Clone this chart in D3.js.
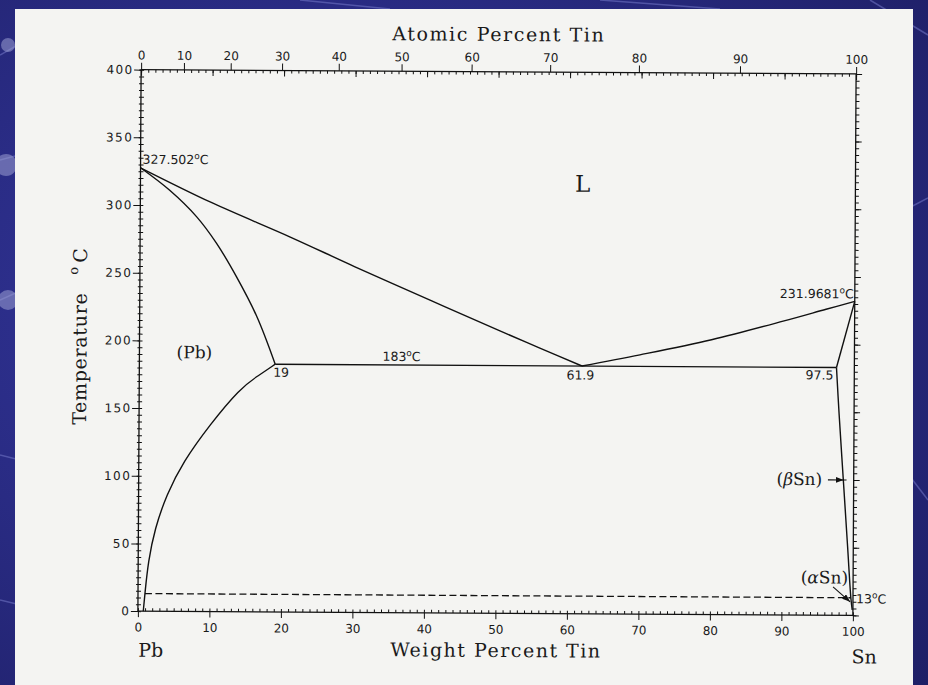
<!DOCTYPE html>
<html>
<head>
<meta charset="utf-8">
<script src="https://cdn.jsdelivr.net/npm/d3@7"></script>
<style>
body { margin: 0; background: #2a2c85; }
svg { display: block; }
.tick text { font-family: "DejaVu Sans"; font-size: 12px; fill: #1a1a1a; }
.left .tick text { letter-spacing: 1.4px; }
.serif { font-family: "DejaVu Serif", serif; fill: #1a1a1a; }
.sans { font-family: "DejaVu Sans"; font-size: 12.5px; fill: #1a1a1a; }
</style>
</head>
<body>
<div id="chart"></div>
<script>
//Les graduations des axes
const wtTicks = [0, 10, 20, 30, 40, 50, 60, 70, 80, 90, 100];
const atTicks = [0, 10, 20, 30, 40, 50, 60, 70, 80, 90, 100];
const tempTicks = [0, 50, 100, 150, 200, 250, 300, 350, 400];

//Les courbes du diagramme: [% massique Sn, température °C]
const liquidusPb = [[0, 327.502], [10, 302], [21, 277], [30, 255.5], [40.6, 231], [50, 209.5], [56, 196], [61.9, 183]];
const solidusPb = [[0, 327.502], [4.1, 311], [7.9, 291.5], [10.7, 272], [13.5, 247.5], [16.4, 218], [19, 183]];
const solvusPb = [[19, 183], [16.5, 174], [14.1, 165], [9.9, 138], [6.2, 110.5], [3.9, 86], [2.3, 61], [1.4, 36.6], [0.97, 13], [0.75, 0]];
const eutectic = [[19, 183], [97.5, 183]];
const liquidusSn = [[61.9, 183], [70, 191.5], [80, 203], [90, 217], [96, 226], [100, 231.9681]];
const solidusSn = [[97.5, 183], [100, 231.9681]];
const solvusSn = [[97.5, 183], [97.9, 149], [98.55, 100], [99.2, 51], [99.7, 13], [99.9, 4]];
const transition13 = [[0.97, 13], [99.7, 13]];

//conversion % atomique -> % massique (Pb 207.2, Sn 118.71)
const atToWt = a => a === 0 ? 0 : 100 * a * 118.71 / (a * 118.71 + (100 - a) * 207.2);

const W = 928, H = 685;
const svg = d3.select("#chart").append("svg").attr("width", W).attr("height", H);
const defs = svg.append("defs");

//fond bleu de la diapo
const grad = defs.append("radialGradient").attr("id", "bg").attr("cx", "35%").attr("cy", "45%").attr("r", "85%");
grad.append("stop").attr("offset", "0%").attr("stop-color", "#3538a2");
grad.append("stop").attr("offset", "100%").attr("stop-color", "#1e1f66");
svg.append("rect").attr("width", W).attr("height", H).attr("fill", "url(#bg)");

const decor = [[0, 55, 70, 15], [0, 160, 45, 148], [0, 300, 40, 282], [0, 455, 60, 470], [0, 600, 50, 612],
  [870, 0, 928, 35], [905, 210, 928, 198], [300, 0, 390, 9], [600, 0, 720, 9], [905, 470, 928, 500]];
svg.selectAll(".decor").data(decor).enter().append("line")
  .attr("x1", d => d[0]).attr("y1", d => d[1]).attr("x2", d => d[2]).attr("y2", d => d[3])
  .attr("stroke", "#7478c8").attr("stroke-width", 1.5).attr("opacity", 0.55);
svg.selectAll(".blob").data([[6, 165, 11], [8, 300, 10], [8, 45, 7]]).enter().append("circle")
  .attr("cx", d => d[0]).attr("cy", d => d[1]).attr("r", d => d[2])
  .attr("fill", "#9a9ed2").attr("opacity", 0.55);

//la feuille blanche
svg.append("rect").attr("x", 15).attr("y", 9).attr("width", 898).attr("height", 676).attr("fill", "#f4f4f2");

//le scan est un peu de travers
const g = svg.append("g").attr("transform", "rotate(0.34,497,342.5)").attr("color", "#111");

const x = d3.scaleLinear().domain([0, 100]).range([139.5, 854.5]);
const y = d3.scaleLinear().domain([0, 400]).range([613.25, 71.75]);

const noDomain = a => a.select(".domain").remove();

//axe du bas
g.append("g").attr("transform", `translate(0,${y(0)})`)
  .call(d3.axisBottom(x).tickValues(wtTicks).tickSize(6).tickPadding(6)).call(noDomain);
g.append("g").attr("transform", `translate(0,${y(0)})`)
  .call(d3.axisTop(x).tickValues(d3.range(0, 101, 1)).tickSize(3).tickFormat("")).call(noDomain);

//axe du haut (pourcentage atomique)
g.append("g").attr("transform", `translate(0,${y(400)})`)
  .call(d3.axisTop(x).tickValues(atTicks.map(atToWt)).tickFormat((d, i) => atTicks[i]).tickSize(7).tickPadding(3)).call(noDomain);
g.append("g").attr("transform", `translate(0,${y(400)})`)
  .call(d3.axisBottom(x).tickValues(wtTicks).tickSize(6).tickFormat("")).call(noDomain);
g.append("g").attr("transform", `translate(0,${y(400)})`)
  .call(d3.axisBottom(x).tickValues(d3.range(0, 101, 1)).tickSize(3).tickFormat("")).call(noDomain);

//axe de gauche
g.append("g").attr("class", "left").attr("transform", `translate(${x(0)},0)`)
  .call(d3.axisLeft(y).tickValues(tempTicks).tickSize(7).tickPadding(0.5)).call(noDomain);
g.append("g").attr("transform", `translate(${x(0)},0)`)
  .call(d3.axisRight(y).tickValues(d3.range(0, 401, 5)).tickSize(3).tickFormat("")).call(noDomain);
g.append("g").attr("transform", `translate(${x(0)},0)`)
  .call(d3.axisLeft(y).tickValues(d3.range(0, 401, 5)).tickSize(2).tickFormat("")).call(noDomain);

//axe de droite
g.append("g").attr("transform", `translate(${x(100)},0)`)
  .call(d3.axisRight(y).tickValues(tempTicks).tickSize(6).tickFormat("")).call(noDomain);
g.append("g").attr("transform", `translate(${x(100)},0)`)
  .call(d3.axisRight(y).tickValues(d3.range(0, 401, 5)).tickSize(3.5).tickFormat("")).call(noDomain);

g.selectAll(".tick line").attr("stroke-width", 1);

//cadre
g.append("rect").attr("x", x(0)).attr("y", y(400))
  .attr("width", x(100) - x(0)).attr("height", y(0) - y(400))
  .attr("fill", "none").attr("stroke", "#111").attr("stroke-width", 1.3);

//les lignes du diagramme
const straight = d3.line().x(d => x(d[0])).y(d => y(d[1]));
const smooth = d3.line().x(d => x(d[0])).y(d => y(d[1])).curve(d3.curveCatmullRom.alpha(0.5));
const basis = d3.line().x(d => x(d[0])).y(d => y(d[1])).curve(d3.curveBasis);

[[liquidusPb, smooth], [solidusPb, smooth], [solvusPb, basis], [eutectic, straight],
 [liquidusSn, smooth], [solidusSn, straight], [solvusSn, smooth]].forEach(([data, gen]) => {
  g.append("path").attr("d", gen(data)).attr("fill", "none")
    .attr("stroke", "#111").attr("stroke-width", 1.4).attr("stroke-linejoin", "round");
});

g.append("path").attr("d", straight(transition13)).attr("fill", "none")
  .attr("stroke", "#111").attr("stroke-width", 1.3).attr("stroke-dasharray", "7,3.5");

//flèches
defs.append("marker").attr("id", "head").attr("markerUnits", "userSpaceOnUse")
  .attr("markerWidth", 9).attr("markerHeight", 6).attr("refX", 8).attr("refY", 3).attr("orient", "auto")
  .append("path").attr("d", "M0,0 L8,3 L0,6 Z").attr("fill", "#111");

g.append("line").attr("x1", x(96.4)).attr("y1", y(100)).attr("x2", x(98.6)).attr("y2", y(100))
  .attr("stroke", "#111").attr("stroke-width", 1.1).attr("marker-end", "url(#head)");
g.append("line").attr("x1", x(98.6)).attr("y1", y(100)).attr("x2", x(99.0)).attr("y2", y(100))
  .attr("stroke", "#111").attr("stroke-width", 1.1);
g.append("line").attr("x1", x(97.2)).attr("y1", y(21)).attr("x2", x(99.6)).attr("y2", y(10))
  .attr("stroke", "#111").attr("stroke-width", 1.1).attr("marker-end", "url(#head)");

//textes avec degré en exposant
function degText(px, py, num, anchor) {
  const t = g.append("text").attr("class", "sans").attr("x", px).attr("y", py).attr("text-anchor", anchor || "start");
  t.append("tspan").text(num);
  t.append("tspan").attr("font-size", 9).attr("dy", -5).text("o");
  t.append("tspan").attr("dy", 5).text("C");
}
degText(x(0) + 2, y(327.502) - 4, "327.502");
degText(x(100) - 1, y(231.9681) - 3, "231.9681", "end");
degText(x(34), y(183) - 4, "183");
degText(x(100) + 3, y(13) + 5.5, "13");

g.append("text").attr("class", "sans").attr("x", x(19) - 2).attr("y", y(183) + 12.5).text("19");
g.append("text").attr("class", "sans").attr("x", x(61.9) - 1.5).attr("y", y(183) + 13.5).attr("text-anchor", "middle").text("61.9");
g.append("text").attr("class", "sans").attr("x", x(97.5) - 3).attr("y", y(183) + 12).attr("text-anchor", "end").text("97.5");

//noms des phases
g.append("text").attr("class", "serif").attr("font-size", 23).attr("x", x(60.8)).attr("y", y(311.7)).text("L");
g.append("text").attr("class", "serif").attr("font-size", 17).attr("x", x(5.2)).attr("y", y(187)).text("(Pb)");
const beta = g.append("text").attr("class", "serif").attr("font-size", 17).attr("x", x(95.6)).attr("y", y(96)).attr("text-anchor", "end");
beta.append("tspan").text("(");
beta.append("tspan").attr("font-style", "italic").text("β");
beta.append("tspan").text("Sn)");
const alpha = g.append("text").attr("class", "serif").attr("font-size", 17).attr("x", x(99.3)).attr("y", y(23.5)).attr("text-anchor", "end");
alpha.append("tspan").text("(");
alpha.append("tspan").attr("font-style", "italic").text("α");
alpha.append("tspan").text("Sn)");

//titres des axes
g.append("text").attr("class", "serif").attr("font-size", 19).attr("letter-spacing", 1.6)
  .attr("x", x(50)).attr("y", y(400) - 30.75).attr("text-anchor", "middle").text("Atomic Percent Tin");
g.append("text").attr("class", "serif").attr("font-size", 19).attr("letter-spacing", 1.5)
  .attr("x", x(50.1)).attr("y", y(0) + 43.75).attr("text-anchor", "middle").text("Weight Percent Tin");
g.append("text").attr("class", "serif").attr("font-size", 19).attr("x", x(0) + 0.5).attr("y", y(0) + 45.5).text("Pb");
g.append("text").attr("class", "serif").attr("font-size", 19).attr("x", x(100) - 1).attr("y", y(0) + 48).text("Sn");

const temp = g.append("text").attr("class", "serif").attr("font-size", 19).attr("letter-spacing", 0.7)
  .attr("transform", `translate(${x(0) - 53},${y(0) - 186}) rotate(-90)`);
temp.append("tspan").text("Temperature");
temp.append("tspan").attr("x", 150).attr("dy", -9).attr("font-size", 13).text("o");
temp.append("tspan").attr("x", 162).attr("dy", 9).text("C");
</script>
</body>
</html>
